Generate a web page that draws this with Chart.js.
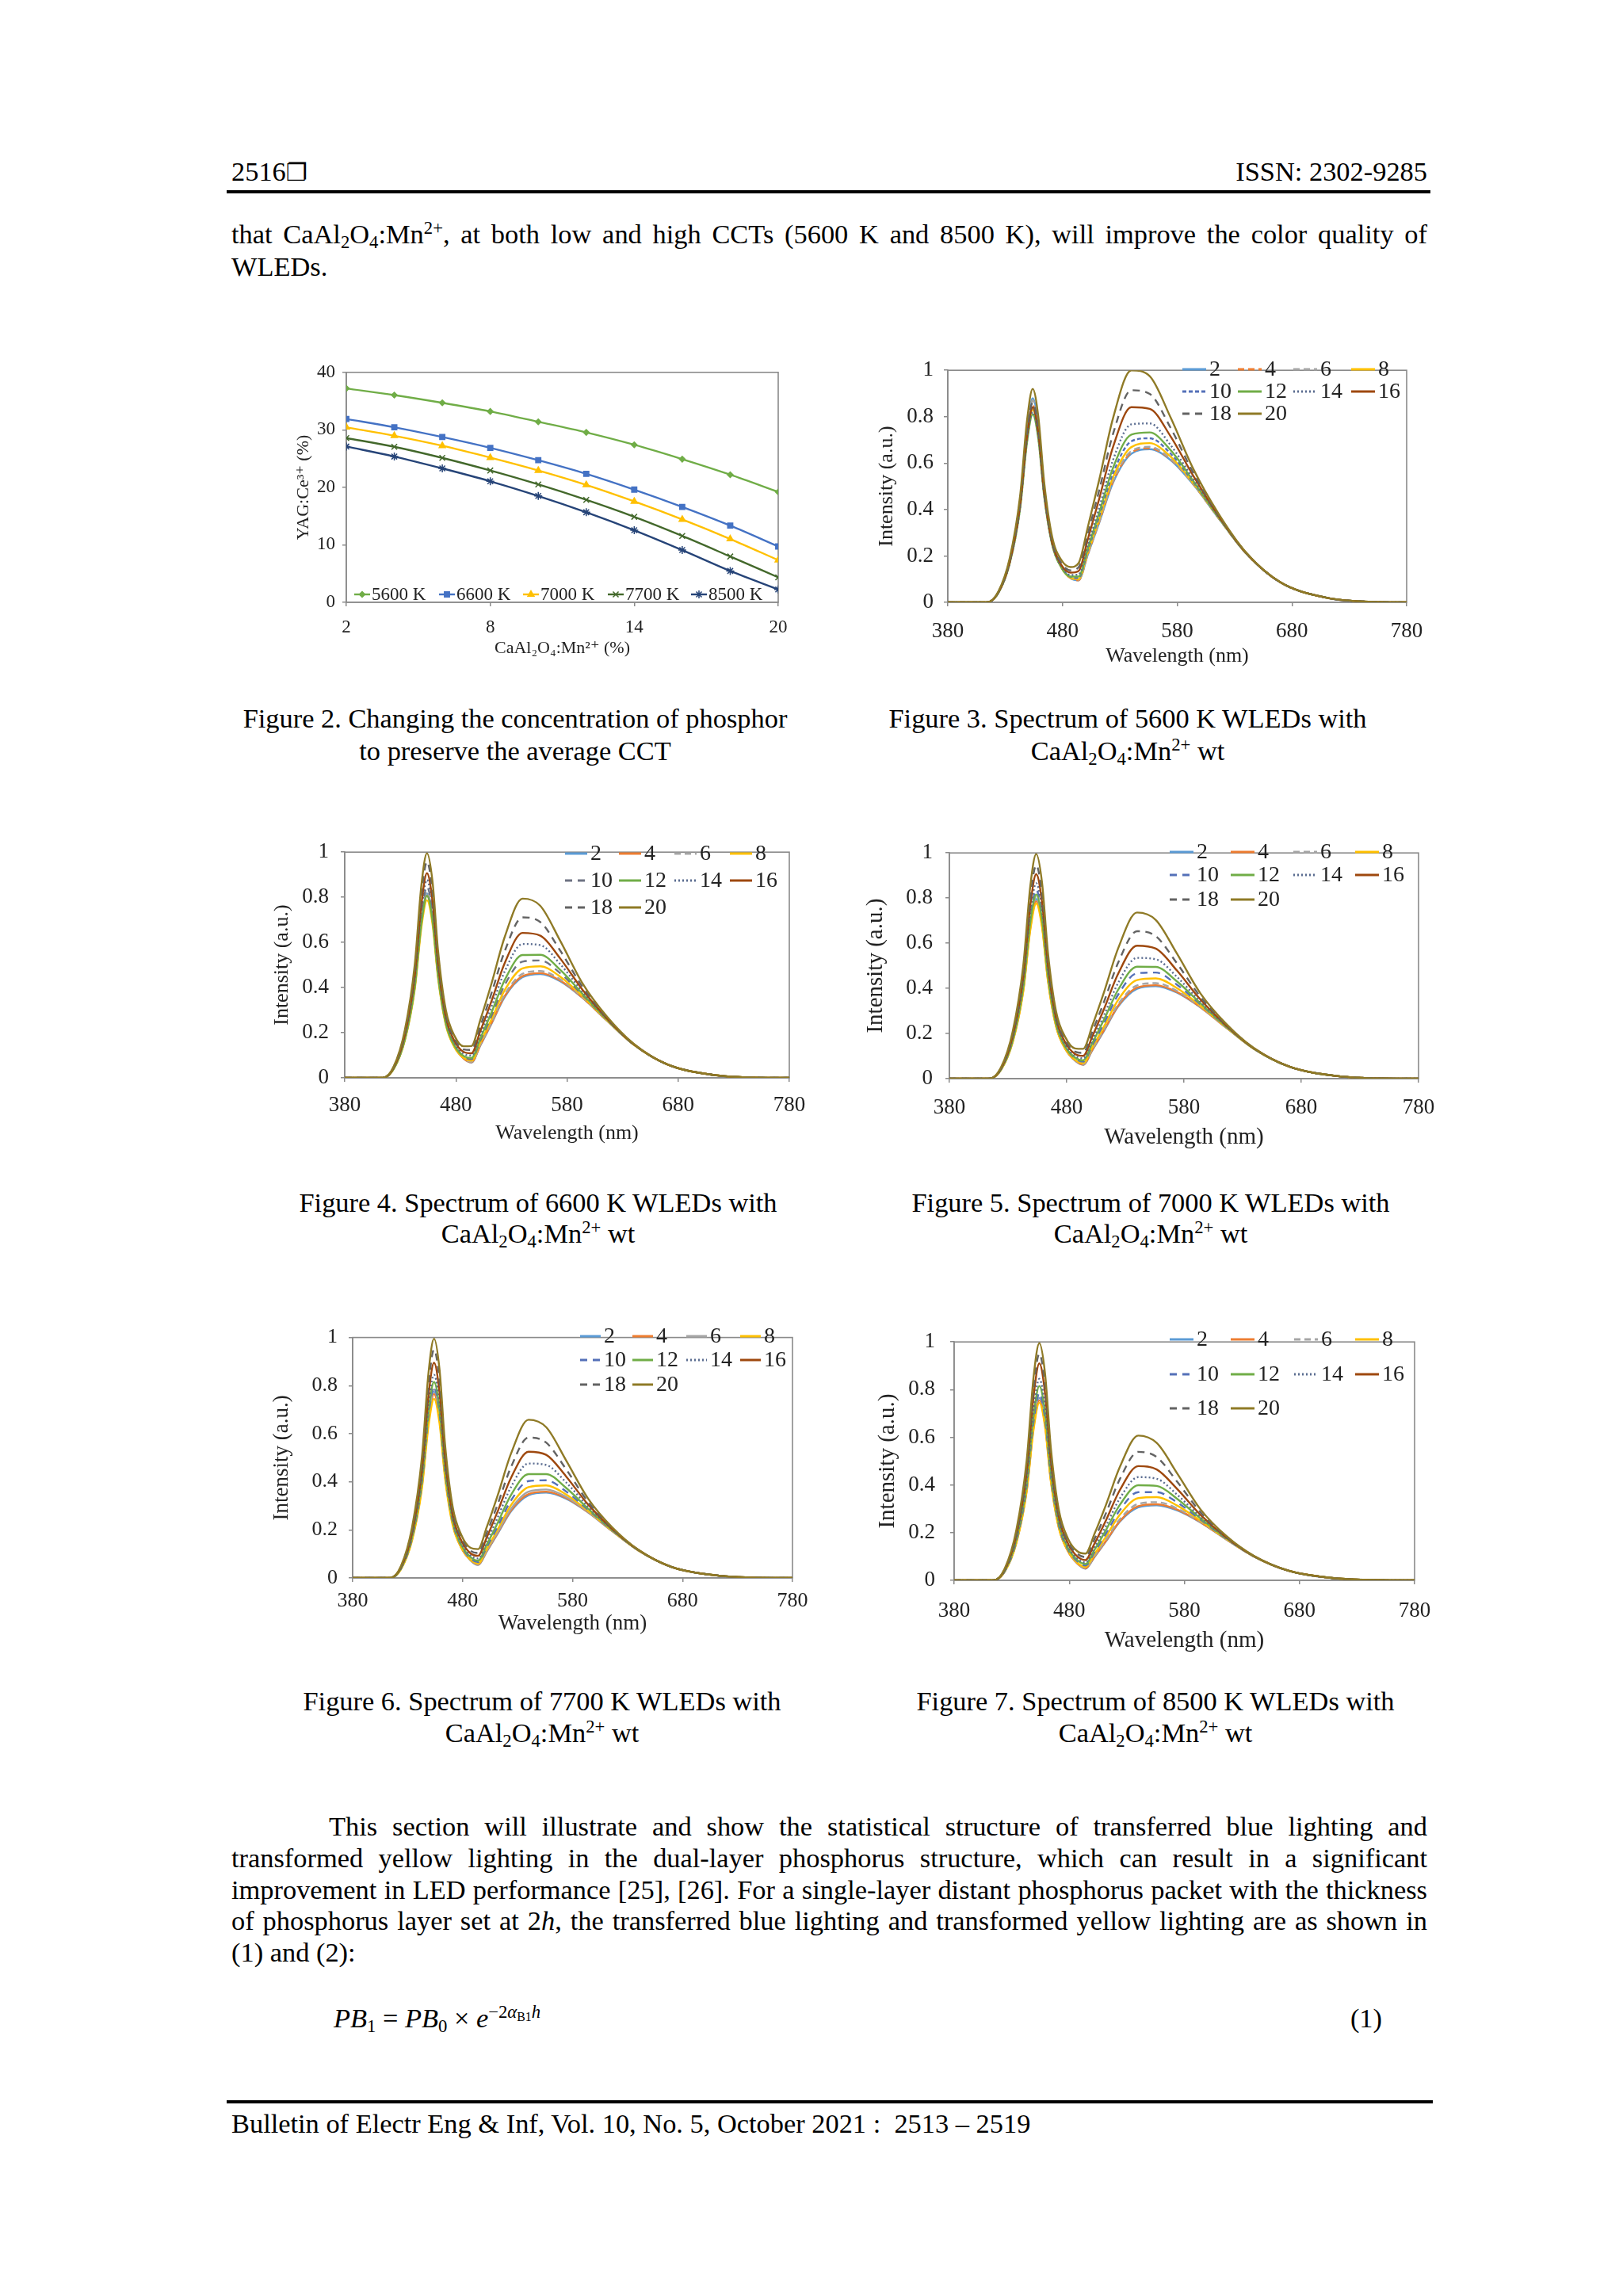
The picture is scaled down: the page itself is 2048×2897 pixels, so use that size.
<!DOCTYPE html>
<html><head><meta charset="utf-8">
<script src="https://cdn.jsdelivr.net/npm/chart.js@4.4.1/dist/chart.umd.min.js"></script>
<style>
html,body{margin:0;padding:0;background:#fff;}
#page{position:relative;width:2048px;height:2897px;overflow:hidden;font-family:'Liberation Serif','Times New Roman','DejaVu Serif',serif;color:#000;}
.t{position:absolute;font-size:34.4px;line-height:40px;white-space:nowrap;}
.j{position:absolute;left:292px;width:1509px;font-size:34.4px;line-height:40px;text-align:justify;text-align-last:justify;}
.c{position:absolute;font-size:34.4px;line-height:40px;white-space:nowrap;transform:translateX(-50%);}
sub,sup{font-size:0.66em;line-height:0;}
sub{vertical-align:-0.28em;} sup{vertical-align:0.55em;}
canvas{position:absolute;}
.rule{position:absolute;background:#000;}
</style></head>
<body><div id="page">
<div class="t" style="left:292px;top:196px;">2516<span style="font-family:'DejaVu Sans';font-size:30px;">❐</span></div>
<div class="t" style="right:247px;top:196px;">ISSN: 2302-9285</div>
<div class="rule" style="left:286px;top:240px;width:1519px;height:4px;"></div>
<div class="j" style="top:275px;">that CaAl<sub>2</sub>O<sub>4</sub>:Mn<sup>2+</sup>, at both low and high CCTs (5600 K and 8500 K), will improve the color quality of</div>
<div class="t" style="left:292px;top:316px;">WLEDs.</div>

<canvas id="fig2"></canvas>
<canvas id="fig3"></canvas>
<canvas id="fig4"></canvas>
<canvas id="fig5"></canvas>
<canvas id="fig6"></canvas>
<canvas id="fig7"></canvas>

<div class="c" style="left:650px;top:886px;">Figure 2. Changing the concentration of phosphor</div>
<div class="c" style="left:650px;top:927px;">to preserve the average CCT</div>
<div class="c" style="left:1423px;top:886px;">Figure 3. Spectrum of 5600 K WLEDs with</div>
<div class="c" style="left:1423px;top:927px;">CaAl<sub>2</sub>O<sub>4</sub>:Mn<sup>2+</sup> wt</div>
<div class="c" style="left:679px;top:1497px;">Figure 4. Spectrum of 6600 K WLEDs with</div>
<div class="c" style="left:679px;top:1536px;">CaAl<sub>2</sub>O<sub>4</sub>:Mn<sup>2+</sup> wt</div>
<div class="c" style="left:1452px;top:1497px;">Figure 5. Spectrum of 7000 K WLEDs with</div>
<div class="c" style="left:1452px;top:1536px;">CaAl<sub>2</sub>O<sub>4</sub>:Mn<sup>2+</sup> wt</div>
<div class="c" style="left:684px;top:2126px;">Figure 6. Spectrum of 7700 K WLEDs with</div>
<div class="c" style="left:684px;top:2166px;">CaAl<sub>2</sub>O<sub>4</sub>:Mn<sup>2+</sup> wt</div>
<div class="c" style="left:1458px;top:2126px;">Figure 7. Spectrum of 8500 K WLEDs with</div>
<div class="c" style="left:1458px;top:2166px;">CaAl<sub>2</sub>O<sub>4</sub>:Mn<sup>2+</sup> wt</div>

<div class="j" style="top:2284px;left:415px;width:1386px;">This section will illustrate and show the statistical structure of transferred blue lighting and</div>
<div class="j" style="top:2324px;">transformed yellow lighting in the dual-layer phosphorus structure, which can result in a significant</div>
<div class="j" style="top:2364px;">improvement in LED performance [25], [26]. For a single-layer distant phosphorus packet with the thickness</div>
<div class="j" style="top:2403px;">of phosphorus layer set at 2<i>h</i>, the transferred blue lighting and transformed yellow lighting are as shown in</div>
<div class="t" style="left:292px;top:2443px;">(1) and (2):</div>
<div class="t" style="left:421px;top:2526px;"><i>PB</i><sub>1</sub> = <i>PB</i><sub>0</sub> × <i>e</i><sup>−2<i>α</i><sub style="font-size:0.7em">B1</sub><i>h</i></sup></div>
<div class="t" style="right:304px;top:2526px;">(1)</div>
<div class="rule" style="left:286px;top:2650px;width:1522px;height:4px;"></div>
<div class="t" style="left:292px;top:2659px;">Bulletin of Electr Eng &amp; Inf, Vol. 10, No. 5, October 2021 :&nbsp; 2513 – 2519</div>
</div>
<script>
// ---------------- DATA ----------------
const mnConcentration = [2, 4, 6, 8, 10, 12, 14, 16, 18, 20];
const yag5600K = [37.2, 36.05, 34.7, 33.2, 31.4, 29.55, 27.4, 24.9, 22.2, 19.2];
const yag6600K = [31.9, 30.45, 28.75, 26.87, 24.72, 22.35, 19.6, 16.6, 13.35, 9.72];
const yag7000K = [30.45, 28.97, 27.23, 25.17, 22.93, 20.42, 17.55, 14.42, 11.02, 7.34];
const yag7700K = [28.57, 27.05, 25.12, 22.93, 20.51, 17.82, 14.87, 11.55, 7.97, 4.34];
const yag8500K = [27.1, 25.35, 23.29, 21.05, 18.5, 15.67, 12.54, 9.09, 5.46, 2.24];
const cctLabels = ['5600 K', '6600 K', '7000 K', '7700 K', '8500 K'];

const seriesLabels = ['2', '4', '6', '8', '10', '12', '14', '16', '18', '20'];
const wavelengths = [380, 414, 424, 434, 443, 449, 454, 459, 464, 471, 479, 487, 494, 502, 512, 524, 540, 556, 574, 594, 616, 640, 670, 710, 750, 780];

const spectrum5600K = [
 [0,0,.044,.183,.438,.747,.880,.761,.496,.267,.155,.105,.095,.205,.343,.515,.640,.660,.614,.508,.363,.211,.086,.020,.002,0],
 [0,0,.042,.176,.423,.721,.850,.735,.479,.258,.151,.104,.095,.207,.346,.519,.645,.664,.617,.509,.363,.211,.086,.020,.002,0],
 [0,0,.043,.181,.433,.738,.870,.753,.490,.264,.154,.106,.097,.209,.349,.524,.652,.670,.620,.510,.364,.211,.086,.020,.002,0],
 [0,0,.041,.172,.413,.704,.830,.718,.468,.253,.150,.106,.100,.215,.358,.538,.669,.686,.629,.513,.365,.211,.086,.020,.002,0],
 [0,0,.042,.174,.418,.713,.840,.727,.474,.256,.152,.110,.105,.223,.371,.556,.694,.707,.642,.518,.366,.212,.086,.020,.002,0],
 [0,0,.040,.168,.403,.687,.810,.701,.457,.248,.150,.111,.111,.232,.386,.579,.723,.732,.657,.523,.367,.212,.086,.020,.002,0],
 [0,0,.041,.170,.408,.696,.820,.710,.463,.251,.154,.118,.120,.247,.408,.613,.767,.771,.679,.531,.370,.212,.086,.020,.002,0],
 [0,0,.042,.174,.418,.713,.840,.727,.474,.257,.161,.128,.135,.271,.446,.669,.841,.834,.717,.545,.373,.213,.086,.020,.002,0],
 [0,0,.043,.179,.428,.730,.860,.744,.485,.264,.169,.138,.151,.295,.483,.725,.914,.898,.754,.558,.377,.214,.086,.020,.002,0],
 [0,0,.046,.191,.458,.781,.920,.796,.518,.282,.182,.152,.169,.323,.528,.793,1.0,.975,.799,.575,.382,.215,.086,.020,.002,0]
];
const spectrum6600K = [
 [0,0,.041,.170,.407,.694,.817,.706,.458,.243,.136,.086,.068,.143,.239,.359,.446,.460,.428,.354,.253,.147,.060,.014,.001,0],
 [0,0,.040,.168,.402,.685,.807,.697,.452,.240,.135,.086,.069,.145,.242,.363,.451,.464,.431,.355,.253,.147,.060,.014,.001,0],
 [0,0,.041,.172,.412,.702,.827,.714,.463,.246,.139,.088,.071,.148,.247,.370,.461,.473,.436,.357,.254,.147,.060,.014,.001,0],
 [0,0,.039,.164,.392,.668,.787,.680,.441,.234,.134,.089,.076,.156,.259,.389,.485,.494,.448,.361,.255,.147,.060,.014,.001,0],
 [0,0,.042,.176,.422,.719,.847,.731,.474,.252,.145,.095,.082,.165,.274,.412,.515,.520,.463,.367,.257,.148,.060,.014,.001,0],
 [0,0,.040,.168,.402,.685,.807,.697,.452,.241,.141,.097,.088,.175,.289,.434,.544,.545,.478,.372,.258,.148,.060,.014,.001,0],
 [0,0,.044,.183,.437,.745,.877,.757,.491,.262,.154,.107,.099,.191,.314,.472,.593,.588,.503,.381,.261,.149,.060,.014,.001,0],
 [0,0,.045,.189,.452,.770,.907,.783,.507,.270,.161,.115,.109,.207,.339,.509,.642,.630,.528,.390,.263,.149,.060,.014,.001,0],
 [0,0,.048,.200,.477,.813,.957,.826,.535,.285,.172,.126,.124,.229,.374,.562,.711,.690,.563,.403,.267,.150,.060,.014,.001,0],
 [0,0,.050,.210,.502,.855,.995,.869,.562,.300,.184,.140,.141,.257,.417,.625,.794,.762,.606,.418,.271,.151,.060,.014,.001,0]
];
const spectrum7000K = [
 [0,0,.040,.166,.397,.676,.796,.687,.445,.235,.132,.080,.061,.127,.213,.320,.398,.410,.381,.316,.226,.131,.053,.012,.001,0],
 [0,0,.039,.164,.392,.667,.786,.679,.439,.232,.130,.081,.062,.129,.216,.324,.403,.414,.384,.317,.226,.131,.053,.012,.001,0],
 [0,0,.040,.168,.402,.684,.806,.696,.450,.238,.134,.083,.064,.132,.221,.331,.413,.423,.389,.319,.227,.131,.053,.012,.001,0],
 [0,0,.039,.162,.387,.659,.776,.670,.434,.230,.131,.084,.069,.140,.233,.350,.437,.444,.401,.323,.228,.131,.053,.012,.001,0],
 [0,0,.042,.174,.417,.710,.836,.722,.467,.247,.141,.091,.075,.149,.248,.373,.467,.470,.416,.329,.230,.132,.053,.012,.001,0],
 [0,0,.041,.170,.407,.693,.816,.705,.456,.242,.140,.094,.081,.159,.263,.395,.496,.495,.431,.334,.231,.132,.053,.012,.001,0],
 [0,0,.043,.181,.432,.735,.866,.748,.483,.256,.149,.102,.090,.172,.283,.425,.535,.529,.451,.341,.233,.132,.053,.012,.001,0],
 [0,0,.045,.189,.452,.769,.906,.782,.505,.268,.159,.110,.101,.189,.311,.466,.589,.576,.479,.351,.236,.133,.053,.012,.001,0],
 [0,0,.047,.197,.472,.803,.946,.816,.527,.280,.169,.120,.114,.210,.343,.515,.653,.631,.511,.363,.239,.134,.053,.012,.001,0],
 [0,0,.050,.210,.502,.854,.995,.868,.560,.297,.182,.134,.132,.237,.386,.579,.736,.703,.554,.378,.243,.134,.053,.012,.001,0]
];
const spectrum7700K = [
 [0,0,.039,.162,.387,.659,.775,.669,.433,.228,.126,.074,.054,.110,.185,.277,.344,.355,.330,.273,.195,.114,.046,.011,.001,0],
 [0,0,.038,.160,.382,.650,.765,.661,.427,.225,.124,.075,.055,.112,.188,.281,.349,.359,.333,.274,.195,.114,.046,.011,.001,0],
 [0,0,.039,.164,.392,.667,.785,.678,.438,.230,.128,.077,.057,.115,.193,.288,.359,.368,.338,.276,.196,.114,.046,.011,.001,0],
 [0,0,.037,.155,.372,.633,.745,.643,.416,.219,.124,.076,.060,.121,.203,.303,.378,.385,.348,.279,.197,.114,.046,.011,.001,0],
 [0,0,.040,.166,.397,.676,.795,.686,.444,.234,.133,.082,.066,.129,.215,.322,.403,.406,.360,.284,.198,.115,.046,.011,.001,0],
 [0,0,.041,.170,.407,.693,.815,.704,.455,.240,.136,.088,.072,.139,.230,.345,.432,.432,.375,.289,.200,.115,.046,.011,.001,0],
 [0,0,.042,.176,.422,.718,.845,.729,.471,.248,.144,.094,.081,.153,.253,.378,.476,.470,.398,.297,.202,.115,.046,.011,.001,0],
 [0,0,.045,.187,.447,.761,.895,.772,.499,.263,.154,.103,.092,.169,.278,.416,.525,.512,.423,.306,.204,.116,.046,.011,.001,0],
 [0,0,.047,.198,.475,.807,.950,.820,.529,.279,.165,.114,.104,.188,.308,.461,.584,.563,.453,.317,.207,.116,.046,.011,.001,0],
 [0,0,.050,.210,.502,.854,.995,.867,.557,.295,.177,.126,.120,.212,.345,.517,.658,.627,.490,.331,.211,.117,.046,.011,.001,0]
];
const spectrum8500K = [
 [0,0,.038,.160,.382,.649,.765,.660,.426,.224,.122,.071,.049,.098,.164,.246,.306,.315,.293,.243,.173,.101,.041,.009,.001,0],
 [0,0,.038,.158,.377,.641,.755,.651,.421,.221,.121,.071,.050,.100,.166,.249,.311,.319,.296,.244,.173,.101,.041,.009,.001,0],
 [0,0,.039,.162,.387,.658,.775,.668,.432,.227,.125,.073,.052,.103,.172,.257,.321,.328,.301,.246,.174,.101,.041,.009,.001,0],
 [0,0,.037,.155,.372,.632,.745,.642,.415,.218,.122,.074,.056,.111,.184,.276,.345,.349,.313,.250,.175,.101,.041,.009,.001,0],
 [0,0,.039,.164,.392,.666,.785,.677,.437,.230,.129,.080,.062,.119,.197,.295,.370,.370,.326,.255,.176,.102,.041,.009,.001,0],
 [0,0,.041,.170,.407,.692,.815,.703,.454,.239,.135,.085,.068,.128,.212,.317,.399,.396,.341,.260,.178,.102,.041,.009,.001,0],
 [0,0,.042,.176,.422,.717,.845,.728,.470,.247,.142,.091,.075,.140,.229,.344,.433,.426,.358,.266,.180,.102,.041,.009,.001,0],
 [0,0,.045,.190,.455,.772,.910,.784,.506,.266,.154,.100,.085,.155,.253,.379,.479,.465,.382,.275,.182,.103,.041,.009,.001,0],
 [0,0,.047,.198,.475,.806,.950,.819,.528,.278,.162,.111,.098,.174,.283,.425,.539,.517,.412,.286,.185,.103,.041,.009,.001,0],
 [0,0,.050,.210,.502,.853,.995,.866,.556,.294,.174,.122,.112,.196,.318,.476,.607,.576,.447,.298,.188,.104,.041,.009,.001,0]
];

// ---------------- STYLE ----------------
const seriesColors = ['#5B9BD5','#ED7D31','#A5A5A5','#FFC000','#5470B8','#70AD47','#5A6C90','#9E480E','#636363','#8F7A26'];
const seriesColorsFig4 = ['#5B9BD5','#ED7D31','#A5A5A5','#FFC000','#6E7383','#70AD47','#5A6C90','#9E480E','#636363','#8F7A26'];
const cctColors = ['#70AD47','#4472C4','#FFC000','#43682B','#264478'];
const cctPoints = ['rectRot','rect','triangle','crossRot','star'];
const SOLID = [], DASH = [8,5], SDASH = [5,3], DOT = [2,3], LDASH = [9,7];
const dash3 = [SOLID,DASH,DASH,SOLID,SDASH,SOLID,DOT,SOLID,LDASH,SOLID];
const dashA = [SOLID,SOLID,DASH,SOLID,LDASH,SOLID,DOT,SOLID,LDASH,SOLID];
const dash6 = [SOLID,SOLID,SOLID,SOLID,LDASH,SOLID,DOT,SOLID,LDASH,SOLID];
const FONT = "'Liberation Serif','DejaVu Serif',serif";
const TXT = '#222';
const AXIS = '#8a8a8a';

Chart.defaults.font.family = FONT;
Chart.defaults.color = TXT;

const framePlugin = {
  id: 'frame',
  beforeDatasetsDraw(chart) {
    const {left, top, right, bottom} = chart.chartArea;
    const c = chart.ctx;
    c.save(); c.strokeStyle = AXIS; c.lineWidth = 1.6;
    c.strokeRect(left, top, right - left, bottom - top);
    c.restore();
  }
};
const gridLegend = {
  id: 'gridLegend',
  afterDatasetsDraw(chart, args, o) {
    const c = chart.ctx;
    c.save();
    c.font = o.size + 'px ' + FONT;
    c.textBaseline = 'middle';
    chart.data.datasets.forEach((ds, i) => {
      const col = i % o.xs.length, row = Math.floor(i / o.xs.length);
      const x = o.xs[col], y = o.ys[row];
      c.strokeStyle = ds.borderColor; c.lineWidth = o.lw;
      c.setLineDash(ds.borderDash || []);
      c.beginPath(); c.moveTo(x, y); c.lineTo(x + o.len, y); c.stroke();
      c.setLineDash([]);
      if (o.marker) {
        c.fillStyle = ds.borderColor; c.strokeStyle = ds.borderColor; c.lineWidth = 1.5;
        Chart.helpers.drawPoint(c, {pointStyle: ds.pointStyle, radius: ds.pointRadius, rotation: 0, borderWidth: 1.5}, x + o.len / 2, y);
      }
      c.fillStyle = TXT;
      c.fillText(ds.label, x + o.len + o.gap, y + 1);
    });
    c.restore();
  }
};

function place(id, L) {
  const cv = document.getElementById(id);
  const w = L.ML + L.plotW + L.MR, h = L.MT + L.plotH + L.MB;
  cv.width = w; cv.height = h;
  cv.style.left = L.left + 'px'; cv.style.top = L.top + 'px';
  cv.style.width = w + 'px'; cv.style.height = h + 'px';
  return cv;
}
function axis(L, which, o) {
  const isX = which === 'x';
  return {
    type: 'linear', min: o.min, max: o.max,
    ticks: {stepSize: o.step, padding: isX ? L.xPad : L.yPad, color: TXT, font: {size: L.tick},
      callback: v => String(Math.round(v * 10) / 10)},
    grid: {drawOnChartArea: false, drawTicks: true, tickLength: 5, color: AXIS, lineWidth: 1.5},
    border: {display: true, color: AXIS, width: 1.6},
    title: {display: true, text: o.title, color: TXT, font: {size: L.title}, padding: {top: 4, bottom: 4}},
    afterFit(s) { if (isX) s.height = L.MB; else s.width = L.ML; }
  };
}

function spectrumChart(id, L, series, dashes, colors) {
  const cv = place(id, L);
  const datasets = seriesLabels.map((lab, i) => ({
    label: lab,
    data: wavelengths.map((w, j) => ({x: w, y: series[i][j]})),
    borderColor: colors[i], borderDash: dashes[i], borderWidth: 2.4,
    pointRadius: 0, cubicInterpolationMode: 'monotone', fill: false,
    order: seriesLabels.length - i
  }));
  new Chart(cv, {
    type: 'line',
    data: {datasets},
    options: {
      responsive: false, animation: false, devicePixelRatio: 1,
      layout: {padding: {top: L.MT, right: L.MR, left: 0, bottom: 0}},
      scales: {
        x: axis(L, 'x', {min: 380, max: 780, step: 100, title: 'Wavelength (nm)'}),
        y: axis(L, 'y', {min: 0, max: 1, step: 0.2, title: 'Intensity (a.u.)'})
      },
      plugins: {legend: {display: false}, tooltip: {enabled: false},
        gridLegend: {xs: L.lx.map(v => v - L.left), ys: L.ly.map(v => v - L.top), len: L.llen, gap: 4, size: L.lsize, lw: 3}}
    },
    plugins: [framePlugin, gridLegend]
  });
}

// ---------------- LAYOUT ----------------
const L2 = {left: 366, top: 447, ML: 71, MT: 16, plotW: 545, plotH: 297, MB: 75, MR: 30, xPad: 13, yPad: 9, tick: 23, title: 22,
  lx: [447, 554, 660, 767, 872], ly: [750], llen: 20, lsize: 23};
const L3 = {left: 1100, top: 438, ML: 96, MT: 16, plotW: 579, plotH: 306, MB: 88, MR: 40, xPad: 16, yPad: 13, tick: 27, title: 26,
  lx: [1492, 1562, 1632, 1705], ly: [466, 494, 522], llen: 30, lsize: 28};
const L4 = {left: 337, top: 1044, ML: 98, MT: 16, plotW: 561, plotH: 300, MB: 90, MR: 40, xPad: 14, yPad: 15, tick: 27, title: 26,
  lx: [713, 781, 851, 921], ly: [1077, 1111, 1145], llen: 28, lsize: 28};
const L5 = {left: 1084, top: 1044, ML: 114, MT: 16, plotW: 592, plotH: 301, MB: 96, MR: 40, xPad: 16, yPad: 16, tick: 27, title: 29,
  lx: [1476, 1553, 1632, 1710], ly: [1075, 1104, 1135], llen: 30, lsize: 28};
const L6 = {left: 336, top: 1658, ML: 109, MT: 16, plotW: 555, plotH: 317, MB: 78, MR: 40, xPad: 9, yPad: 14, tick: 26, title: 27,
  lx: [732, 798, 866, 934], ly: [1686, 1716, 1747], llen: 26, lsize: 28};
const L7 = {left: 1099, top: 1658, ML: 105, MT: 16, plotW: 581, plotH: 320, MB: 98, MR: 40, xPad: 18, yPad: 19, tick: 27, title: 29,
  lx: [1476, 1553, 1633, 1710], ly: [1690, 1734, 1777], llen: 30, lsize: 28};

// ---------------- FIGURE 2 ----------------
(function () {
  const cv = place('fig2', L2);
  const yag = [yag5600K, yag6600K, yag7000K, yag7700K, yag8500K];
  const radius = [3.5, 4.5, 4.5, 5, 5];
  const datasets = cctLabels.map((lab, i) => ({
    label: lab,
    data: mnConcentration.map((m, j) => ({x: m, y: yag[i][j]})),
    borderColor: cctColors[i], backgroundColor: cctColors[i],
    pointBackgroundColor: cctColors[i], pointBorderColor: cctColors[i],
    pointStyle: cctPoints[i], pointRadius: radius[i], pointBorderWidth: 1.5,
    borderWidth: 2.4, cubicInterpolationMode: 'monotone', fill: false
  }));
  new Chart(cv, {
    type: 'line',
    data: {datasets},
    options: {
      responsive: false, animation: false, devicePixelRatio: 1,
      layout: {padding: {top: L2.MT, right: L2.MR, left: 0, bottom: 0}},
      scales: {
        x: axis(L2, 'x', {min: 2, max: 20, step: 6, title: 'CaAl₂O₄:Mn²⁺ (%)'}),
        y: axis(L2, 'y', {min: 0, max: 40, step: 10, title: 'YAG:Ce³⁺ (%)'})
      },
      plugins: {legend: {display: false}, tooltip: {enabled: false},
        gridLegend: {xs: L2.lx.map(v => v - L2.left), ys: L2.ly.map(v => v - L2.top), len: L2.llen, gap: 2, size: L2.lsize, lw: 2.4, marker: true}}
    },
    plugins: [framePlugin, gridLegend]
  });
})();

spectrumChart('fig3', L3, spectrum5600K, dash3, seriesColors);
spectrumChart('fig4', L4, spectrum6600K, dashA, seriesColorsFig4);
spectrumChart('fig5', L5, spectrum7000K, dashA, seriesColors);
spectrumChart('fig6', L6, spectrum7700K, dash6, seriesColors);
spectrumChart('fig7', L7, spectrum8500K, dashA, seriesColors);
</script>
</body></html>
